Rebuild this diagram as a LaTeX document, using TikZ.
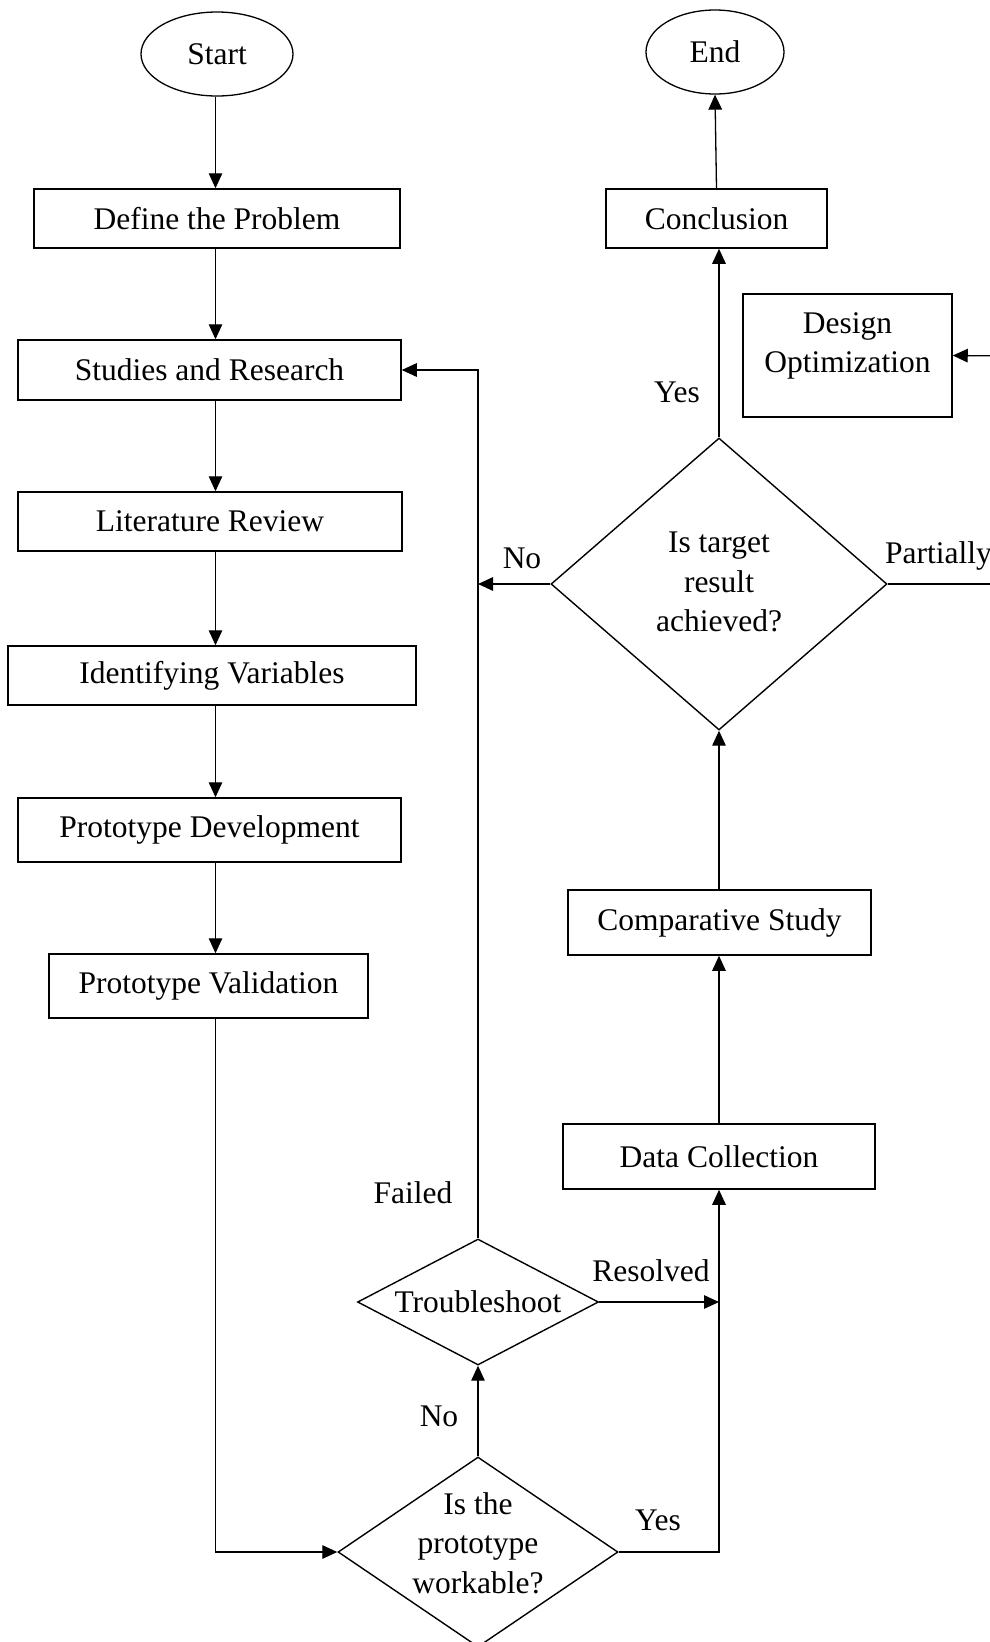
\documentclass[tikz,border=0pt]{standalone}
\usepackage{fontspec}
\setmainfont{Liberation Serif}
\usetikzlibrary{arrows.meta,shapes.geometric}
\begin{document}
\begin{tikzpicture}[x=1pt,y=-1pt,
  every node/.style={font=\fontsize{31.5}{39.5}\selectfont},
  box/.style={draw,line width=1.5pt,inner sep=0pt,align=center},
  ell/.style={draw,ellipse,line width=1.3pt,inner sep=0pt,minimum height=84pt},
  dia/.style={draw,diamond,line width=1.4pt,inner sep=0pt},
  txt/.style={align=center,inner sep=0pt},
  lbl/.style={inner sep=0pt},
  arr/.style={line width=1.3pt,-{Triangle[length=15pt,width=13.5pt]}},
  ln/.style={line width=1.3pt}]
\useasboundingbox (0,0) rectangle (990,1642);
\clip (0,0) rectangle (990,1642);
\coordinate (colx) at (215.5,0);
% left column
\node[ell,minimum width=152pt] (start) at (217,54) {Start};
\node[box,minimum width=366pt,minimum height=59pt] (define) at (217,218.5) {Define the Problem};
\node[box,minimum width=383pt,minimum height=60pt] (studies) at (209.5,370) {Studies and Research};
\node[box,minimum width=384pt,minimum height=59pt] (lit) at (210,521.5) {Literature Review};
\node[box,minimum width=408pt,minimum height=59pt] (ident) at (212,675.5) {Identifying Variables};
\node[box,minimum width=383pt,minimum height=64pt] (pdev) at (209.5,830) {Prototype Development};
\node[box,minimum width=319pt,minimum height=64pt] (pval) at (208.5,986) {Prototype Validation};
% right column
\node[ell,minimum width=138pt] (end) at (715,52) {End};
\node[box,minimum width=221pt,minimum height=59pt] (conc) at (716.5,218.5) {Conclusion};
\node[draw,line width=1.5pt,minimum width=209pt,minimum height=123pt] (dopt) at (847.5,355.5) {};
\node[txt] (dopttxt) at (847.5,346) {Design\\Optimization};
\node[dia,minimum width=336pt,minimum height=292pt] (target) at (719,584) {};
\node[txt] (targett) at (719,582) {Is target\\result\\achieved?};
\node[box,minimum width=303pt,minimum height=65pt] (comp) at (719.5,922.5) {Comparative Study};
\node[box,minimum width=312pt,minimum height=65pt] (dc) at (719,1156.5) {Data Collection};
% bottom diamonds
\node[dia,minimum width=241pt,minimum height=126pt] (tr) at (478,1302) {};
\node[txt] (trt) at (478,1302) {Troubleshoot};
\node[dia,minimum width=280pt,minimum height=190pt] (work) at (478,1552) {};
\node[txt] (workt) at (478,1543) {Is the\\prototype\\workable?};
% labels
\node[lbl] (lyes1) at (677,392) {Yes};
\node[lbl] (lno1) at (522,558) {No};
\node[lbl,anchor=west] (lpart) at (885,556) {Partially};
\node[lbl] (lfail) at (413,1193) {Failed};
\node[lbl] (lres) at (651,1271) {Resolved};
\node[lbl] (lno2) at (439,1416) {No};
\node[lbl] (lyes2) at (658,1520) {Yes};
% coordinates
\coordinate (pr1) at (1010,584);
\coordinate (pr2) at (1010,356);
% left column connectors
\draw[arr] (start.south -| colx) -- (define.north -| colx);
\draw[arr] (define.south -| colx) -- (studies.north -| colx);
\draw[arr] (studies.south -| colx) -- (lit.north -| colx);
\draw[arr] (lit.south -| colx) -- (ident.north -| colx);
\draw[arr] (ident.south -| colx) -- (pdev.north -| colx);
\draw[arr] (pdev.south -| colx) -- (pval.north -| colx);
\draw[arr] (pval.south -| colx) |- (work.west);
% bottom
\draw[arr] (work.north) -- (tr.south);
\draw[arr] (work.east) -| (dc.south);
\draw[arr] (tr.east) -- (tr.east -| dc.south);
\draw[arr] (tr.north) |- (studies.east);
% right column
\draw[arr] (dc.north -| target.south) -- (comp.south -| target.south);
\draw[arr] (comp.north -| target.south) -- (target.south);
\draw[arr] (target.west) -- (target.west -| tr.north);
\draw[arr] (target.north) -- (target.north |- conc.south);
\draw[arr] (conc.north) -- (end.south);
\draw[ln] (target.east) -- (pr1) -- (pr2);
\draw[arr] (pr2) -- (dopt.east);
\end{tikzpicture}
\end{document}
